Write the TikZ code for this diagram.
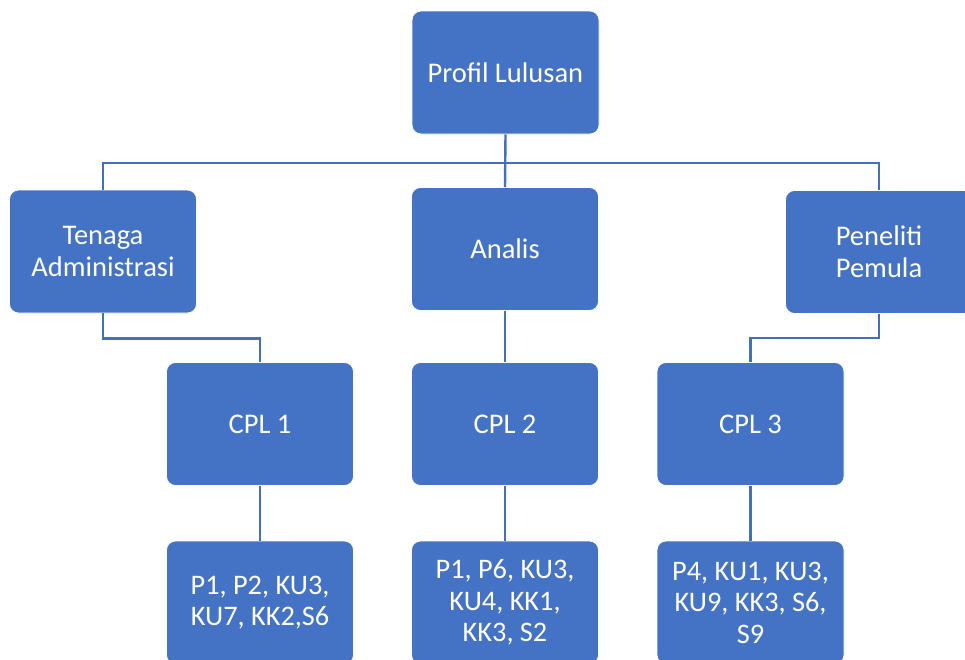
\documentclass[tikz,border=0pt]{standalone}
\usepackage{fontspec}
\setmainfont{Carlito}
\definecolor{boxblue}{HTML}{4472C4}
\definecolor{lineblue}{HTML}{4270BE}
\begin{document}
\begin{tikzpicture}[x=1pt,y=-1pt,
  box/.style={rectangle, rounded corners=9pt, fill=boxblue, draw=white, line width=0.8pt,
    minimum width=187pt, minimum height=123pt, inner sep=0pt, text=white, align=center,
    font=\fontsize{28.5}{32}\selectfont},
  leaf/.style={box, font=\fontsize{28.3}{31.5}\selectfont},
  conn/.style={draw=lineblue, line width=2.4pt}]
\useasboundingbox (0,0) rectangle (965,659);
\clip (0,0) rectangle (965,659);
\node[box] (pl) at (505.5,72.5) {Profil Lulusan};
\node[box] (ta) at (103,251.5) {Tenaga\\Administrasi};
\node[box] (an) at (505,249) {Analis};
\node[box] (pp) at (879,252) {Peneliti\\Pemula};
\node[box] (c1) at (260,424) {CPL 1};
\node[box] (c2) at (505,424) {CPL 2};
\node[box] (c3) at (750.5,424) {CPL 3};
\node[leaf] (b1) at (260,602.5) {P1, P2, KU3,\\KU7, KK2,S6};
\node[leaf] (b2) at (505,602.5) {P1, P6, KU3,\\KU4, KK1,\\KK3, S2};
\node[leaf] (b3) at (750.5,602.5) {P4, KU1, KU3,\\KU9, KK3, S6,\\S9};
\coordinate (bus) at (505.5,163);
\draw[conn] (pl.south) -- (an.north);
\draw[conn] (ta.north) |- (bus) -| (pp.north);
\draw[conn] (ta.south) -- ++(0,25) -| (c1.north);
\draw[conn] (an.south) -- (c2.north);
\draw[conn] (pp.south) -- ++(0,24) -| (c3.north);
\draw[conn] (c1.south) -- (b1.north);
\draw[conn] (c2.south) -- (b2.north);
\draw[conn] (c3.south) -- (b3.north);
\end{tikzpicture}
\end{document}
